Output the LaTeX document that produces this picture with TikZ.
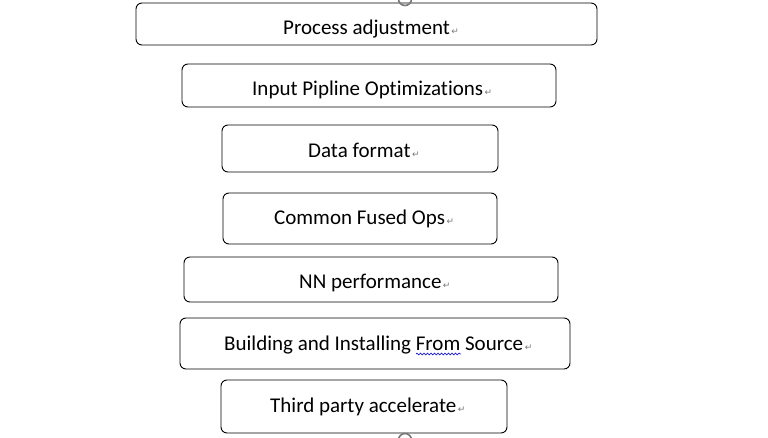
\documentclass[tikz,border=0pt]{standalone}
\usepackage{fontspec}
\usepackage{xcolor}
\setmainfont[Ligatures=NoCommon]{Carlito}
\newfontfamily\markfont{DejaVu Sans}
\usetikzlibrary{decorations.pathmorphing}
\definecolor{markgray}{RGB}{120,120,120}
\definecolor{spellblue}{RGB}{30,30,210}
\newcommand{\parmark}{\textcolor{markgray}{\markfont\fontsize{9}{9}\selectfont\,↵}}

\tikzset{
    stagebox/.style={rectangle, draw, rounded corners=6pt, line width=0.9pt, inner sep=0pt},
    stagetext/.style={anchor=base west, inner sep=0pt, font=\fontsize{21}{24}\selectfont},
    handle/.style={draw=markgray, line width=1.6pt}
}

\begin{document}
\begin{tikzpicture}[x=1pt,y=-1pt]
    \useasboundingbox (0,0) rectangle (768,438);

    % Stack of stages
    \node[stagebox, minimum width=461pt, minimum height=42pt] (adjust) at (366.5,24) {};
    \node[stagebox, minimum width=374pt, minimum height=43pt] (pipeline) at (369,85.5) {};
    \node[stagebox, minimum width=276pt, minimum height=47pt] (format) at (360,148.5) {};
    \node[stagebox, minimum width=274pt, minimum height=51pt] (fused) at (360,218.5) {};
    \node[stagebox, minimum width=374pt, minimum height=45pt] (nnperf) at (371,279.5) {};
    \node[stagebox, minimum width=390pt, minimum height=51pt] (source) at (375,343.5) {};
    \node[stagebox, minimum width=286pt, minimum height=53pt] (thirdparty) at (364,406.5) {};

    % Stage texts
    \node[stagetext] (adjusttext) at (283,35) {Process adjustment\parmark};
    \node[stagetext] (pipelinetext) at (252,96) {Input Pipline Optimizations\parmark};
    \node[stagetext] (formattext) at (308,158) {Data format\parmark};
    \node[stagetext] (fusedtext) at (274,225) {Common Fused Ops\parmark};
    \node[stagetext] (nnperftext) at (299,288) {NN performance\parmark};
    \node[stagetext] (sourcetext) at (224,350) {Building and Installing From Source\parmark};
    \node[stagetext] (thirdpartytext) at (270,412) {Third party accelerate\parmark};

    % Spell check mark
    \draw[spellblue, line width=0.7pt, decorate, decoration={snake, amplitude=0.9pt, segment length=3.5pt}] (416,354) -- (461,354);

    % Selection handles
    \draw[handle] (405,-1) circle (6.5);
    \draw[handle] (405,440) circle (6.5);
\end{tikzpicture}
\end{document}
